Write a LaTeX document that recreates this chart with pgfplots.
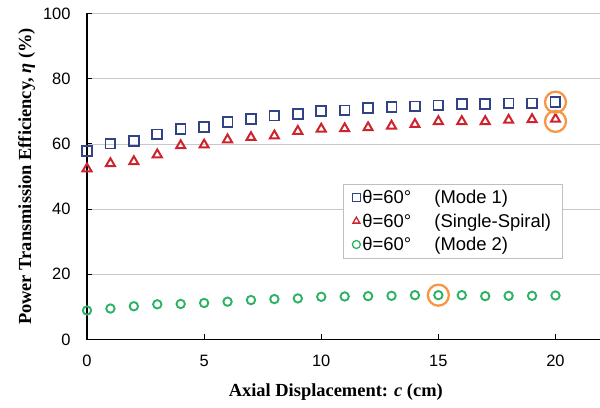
\documentclass[border=0pt]{standalone}
\usepackage{pgfplots}
\pgfplotsset{compat=1.18}
\usepackage{fontspec}
\setmainfont{Liberation Sans}
\newfontfamily\timesbf{Liberation Serif}
\definecolor{cblue}{RGB}{50,66,135}
\definecolor{cred}{RGB}{205,35,45}
\definecolor{cgreen}{RGB}{45,178,100}
\definecolor{corange}{RGB}{247,150,70}
\begin{document}
\begin{tikzpicture}[x=1bp,y=1bp]
\begin{axis}[
  at={(0,0)}, anchor=south west,
  scale only axis, width=513bp, height=326bp,
  xmin=0, xmax=21.9, ymin=0, ymax=100,
  xtick={0,5,10,15,20}, ytick={0,20,40,60,80,100},
  axis x line*=bottom, axis y line*=left,
  axis line style={line width=1.5pt, -},
  ymajorgrids, grid style={black!22, line width=0.8pt},
  tick align=inside, major tick length=5bp,
  tick style={black, line width=0.9pt},
  xtick pos=bottom, ytick pos=left,
  ticklabel style={font=\fontsize{16.5}{18}\selectfont},
  /pgf/number format/assume math mode=true,
  xticklabel style={yshift=-12bp},
  yticklabel style={xshift=-13bp},
  xlabel={\timesbf\bfseries Axial Displacement: \itshape c\upshape\ (cm)},
  ylabel={\timesbf\bfseries Power Transmission Efficiency, \itshape η\upshape\ (\%)},
  xlabel style={font=\fontsize{18.5}{20}\selectfont, at={(ticklabel cs:0.485)}, yshift=-10bp},
  ylabel style={font=\fontsize{18.5}{20}\selectfont, yshift=1bp},
  legend style={at={(rel axis cs:0.499,0.477)}, anchor=north west, draw=black!25, line width=0.8pt,
    font=\fontsize{18.5}{21}\selectfont, row sep=4.5bp, inner xsep=9bp, inner ysep=4bp},
  legend cell align=left,
  legend image code/.code={\draw[#1, mark size=4bp, line width=1.3pt] plot coordinates {(0bp,0bp)};},
  clip=false,
]
\addplot[only marks, mark=square, mark size=4.9bp, draw=cblue, line width=1.8bp] coordinates {
(0,57.8)(1,60.1)(2,60.9)(3,62.9)(4,64.5)(5,65.2)(6,66.7)(7,67.6)(8,68.7)(9,69.1)(10,70.0)
(11,70.3)(12,71.1)(13,71.4)(14,71.5)(15,71.8)(16,72.2)(17,72.2)(18,72.4)(19,72.4)(20,72.8)};
\addlegendentry{\makebox[72bp][l]{θ=60°}(Mode 1)}
\addplot[only marks, mark=triangle, mark size=5.2bp, draw=cred, line width=2bp] coordinates {
(0,52.4)(1,54.0)(2,54.6)(3,56.7)(4,59.5)(5,59.7)(6,61.3)(7,62.0)(8,62.5)(9,63.9)(10,64.6)
(11,64.7)(12,65.0)(13,65.5)(14,66.0)(15,66.9)(16,66.9)(17,66.9)(18,67.3)(19,67.5)(20,67.6)};
\addlegendentry{\makebox[72bp][l]{θ=60°}(Single-Spiral)}
\addplot[only marks, mark=o, mark size=4.2bp, draw=cgreen, line width=1.9bp] coordinates {
(0,8.9)(1,9.5)(2,10.2)(3,10.8)(4,10.9)(5,11.2)(6,11.6)(7,12.1)(8,12.4)(9,12.6)(10,13.1)
(11,13.2)(12,13.3)(13,13.4)(14,13.6)(15,13.6)(16,13.6)(17,13.3)(18,13.4)(19,13.4)(20,13.5)};
\addlegendentry{\makebox[72bp][l]{θ=60°}(Mode 2)}
\addplot[only marks, mark=o, mark size=10.5bp, draw=corange, line width=2.3bp, forget plot] coordinates {
(20,72.8)(20,66.9)(15,13.6)};
\end{axis}
\pgfresetboundingbox
\path[use as bounding box] (-87bp,-68.5bp) rectangle (513bp,339.5bp);
\end{tikzpicture}
\end{document}
